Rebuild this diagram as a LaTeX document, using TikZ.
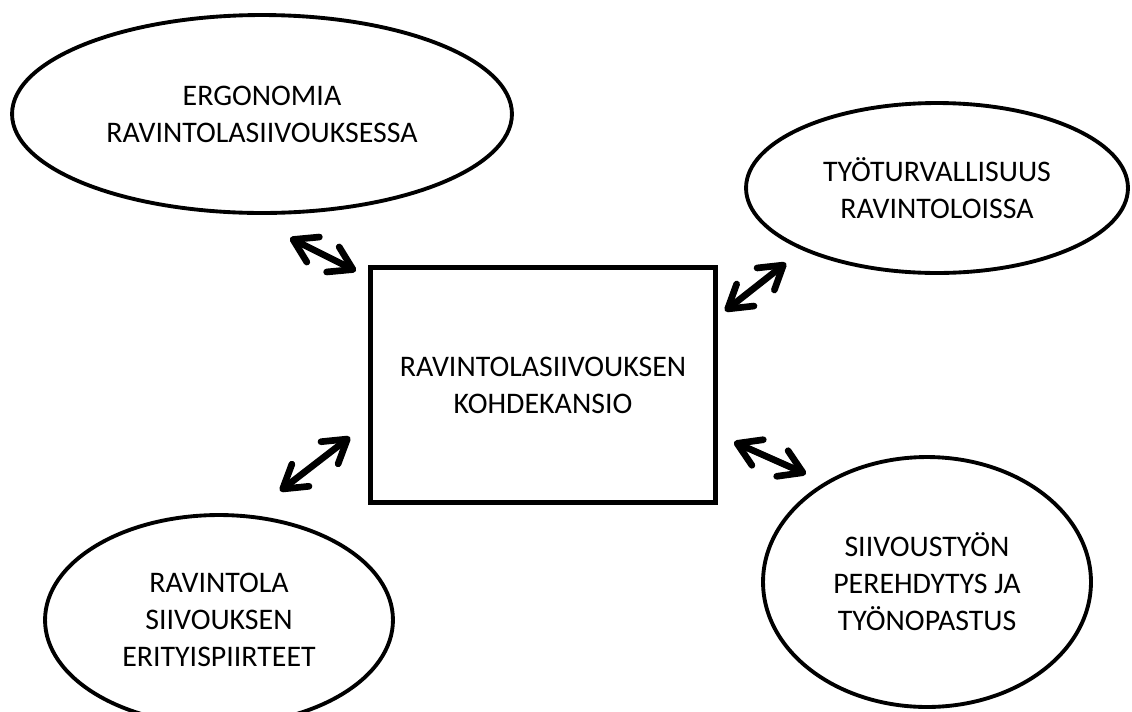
\documentclass[tikz,border=0pt]{standalone}
\usepackage{fontspec}
\setmainfont{Carlito}
\usetikzlibrary{arrows.meta,shapes.geometric}
\begin{document}
\begin{tikzpicture}[x=.02cm,y=-.02cm,
aihe/.style={ellipse,draw,line width=2.2pt,inner sep=0pt,align=center,font=\fontsize{17}{21}\selectfont},
kansio/.style={rectangle,draw,line width=2.4pt,inner sep=0pt,align=center,font=\fontsize{17}{21}\selectfont},
nuoli/.style={{Straight Barb[length=4.5mm,width=5.6mm,round]}-{Straight Barb[length=4.5mm,width=5.6mm,round]},line width=3.8pt,line cap=round}]
\useasboundingbox(0,0)rectangle(1132,711);
\node[kansio,minimum width=6.9cm,minimum height=4.7cm](kansio)at(543,385){RAVINTOLASIIVOUKSEN\\KOHDEKANSIO};
\node[aihe,minimum width=10cm,minimum height=3.96cm](ergo)at(262,114){ERGONOMIA\\RAVINTOLASIIVOUKSESSA};
\node[aihe,minimum width=7.64cm,minimum height=3.4cm](turva)at(937,188){TYÖTURVALLISUUS\\RAVINTOLOISSA};
\node[aihe,minimum width=6.96cm,minimum height=4.2cm](erit)at(219,620){RAVINTOLA\\SIIVOUKSEN\\ERITYISPIIRTEET};
\node[aihe,minimum width=6.56cm,minimum height=5cm](pere)at(927,582){SIIVOUSTYÖN\\PEREHDYTYS JA\\TYÖNOPASTUS};
\coordinate(a1)at(290,238);\coordinate(b1)at(356,271);
\coordinate(a2)at(786,263);\coordinate(b2)at(725,311);
\coordinate(a3)at(280,491);\coordinate(b3)at(350,437);
\coordinate(a4)at(734,442);\coordinate(b4)at(806,474);
\foreach\i in{1,...,4}{\draw[nuoli](a\i)--(b\i);}
\end{tikzpicture}
\end{document}
